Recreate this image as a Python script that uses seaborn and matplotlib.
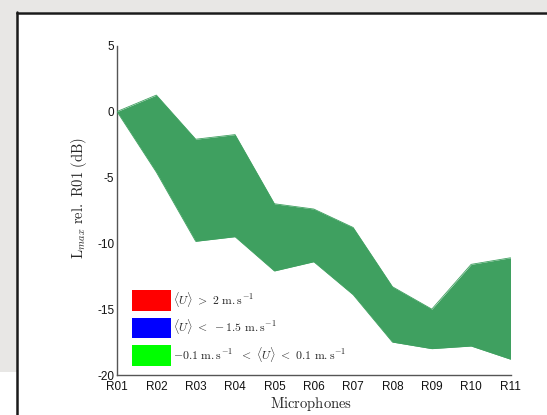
import matplotlib
matplotlib.use("Agg")
import matplotlib.pyplot as plt
from matplotlib.patches import Patch, Rectangle
from matplotlib.lines import Line2D
import seaborn as sns
import pandas as pd

# Microphone positions and Lmax envelope (dB relative to R01)
microphones = ["R01", "R02", "R03", "R04", "R05", "R06", "R07", "R08", "R09", "R10", "R11"]
lmax_upper = [0.0, 1.25, -2.1, -1.75, -7.0, -7.4, -8.8, -13.3, -15.0, -11.6, -11.1]
lmax_lower = [0.0, -4.6, -9.85, -9.5, -12.1, -11.4, -13.9, -17.5, -18.0, -17.8, -18.8]
y_ticks = [-20, -15, -10, -5, 0, 5]

legend_labels = [
    r"$\langle U\rangle\ >\ 2\ \mathrm{m{.}s^{-1}}$",
    r"$\langle U\rangle\ <\ -1.5\ \mathrm{m{.}s^{-1}}$",
    r"$-0.1\ \mathrm{m{.}s^{-1}}\ \ <\ \langle U\rangle\ <\ 0.1\ \mathrm{m{.}s^{-1}}$",
]
legend_colors = ["#ff0000", "#0000ff", "#00ff00"]
band_color = "#3fa060"

sns.set_style("white")
plt.rcParams["axes.unicode_minus"] = False
plt.rcParams["mathtext.fontset"] = "cm"
plt.rcParams["font.family"] = ["Liberation Sans", "DejaVu Sans"]

df = pd.DataFrame({
    "pos": range(len(microphones)),
    "upper": lmax_upper,
    "lower": lmax_lower,
})

fig = plt.figure(figsize=(5.47, 4.15), dpi=100)
fig.patch.set_facecolor("white")

# Window frame: grey margins and dark border of the figure panel
W, H = 547, 415
def fx(px):
    return px / W
def fy(py):
    return 1 - py / H

fig.add_artist(Rectangle((0, fy(12)), 1, fy(0) - fy(12), transform=fig.transFigure,
                         facecolor="#e8e7e5", edgecolor="none", zorder=0))
fig.add_artist(Rectangle((0, fy(372)), fx(16.5), fy(12) - fy(372), transform=fig.transFigure,
                         facecolor="#e8e7e5", edgecolor="none", zorder=0))
fig.add_artist(Line2D([fx(16.5), 1], [fy(12.8), fy(12.8)], transform=fig.transFigure,
                      color="#1a1a1a", lw=1.8))
fig.add_artist(Line2D([fx(16.8), fx(16.8)], [fy(12), 0], transform=fig.transFigure,
                      color="#1a1a1a", lw=1.8))

ax = fig.add_axes([fx(117), fy(375), fx(510.5) - fx(117), fy(45.7) - fy(375)])
ax.set_facecolor("white")

ax.fill_between(df["pos"], df["lower"], df["upper"], color=band_color, linewidth=0, zorder=2)
sns.lineplot(data=df, x="pos", y="upper", ax=ax, color=band_color, linewidth=0.6, zorder=3)
sns.lineplot(data=df, x="pos", y="lower", ax=ax, color=band_color, linewidth=0.6, zorder=3)

ax.set_xlim(0, len(microphones) - 1)
ax.set_ylim(-20, 5)
ax.set_xticks(range(len(microphones)))
ax.set_xticklabels(microphones)
ax.set_yticks(y_ticks)
ax.set_yticklabels([str(v) for v in y_ticks])

for side in ["top", "right"]:
    ax.spines[side].set_visible(False)
for side in ["left", "bottom"]:
    ax.spines[side].set_color("#555555")
    ax.spines[side].set_linewidth(1.0)
ax.spines["bottom"].set_bounds(0, len(microphones) - 1)
ax.spines["left"].set_bounds(-20, 5)

ax.tick_params(axis="both", direction="in", length=4, width=0.8, color="#222222",
               labelsize=8.5, labelcolor="#111111", pad=2)
ax.tick_params(axis="x", pad=4.5)

ax.set_xlabel(r"$\mathrm{Microphones}$", fontsize=10.5)
ax.set_ylabel(r"$\mathrm{L}_{max}\ \mathrm{rel.\ R01\ (dB)}$", fontsize=10.5)
ax.xaxis.set_label_coords(0.494, -0.06)
ax.yaxis.set_label_coords(-0.072, 0.537)

handles = [Patch(facecolor=c, edgecolor="none") for c in legend_colors]
ax.legend(handles, legend_labels, loc="lower left", bbox_to_anchor=(0.025, 0.014),
          frameon=False, fontsize=8.5, handlelength=3.3, handleheight=2.3,
          handletextpad=0.2, labelspacing=0.55, borderaxespad=0)

fig.savefig("out.png", dpi=100)
